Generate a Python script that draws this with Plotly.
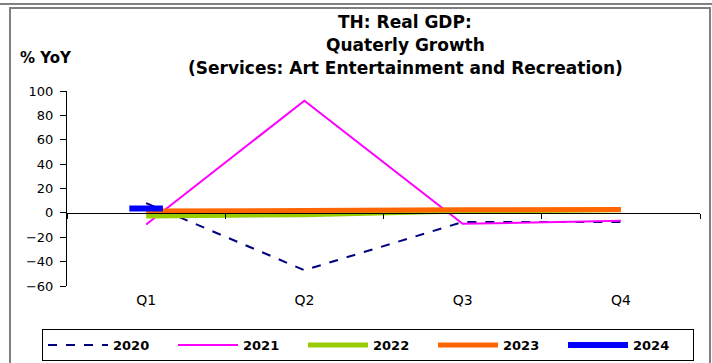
import plotly.graph_objects as go

QUARTERS = ["Q1", "Q2", "Q3", "Q4"]
Y2020 = [8, -47, -7.5, -7.5]
Y2021 = [-9.5, 92, -9, -6.5]
Y2022 = [-2.5, -1.5, 1.5, 2.5]
Y2023 = [1.5, 1.5, 2.5, 2.8]
Y2024 = [3.5]

TITLE_LINES = [
    "TH: Real GDP:",
    "Quaterly Growth",
    "(Services: Art Entertainment and Recreation)",
]

FONT = "DejaVu Sans, Arial, sans-serif"

# plot area in pixels (left, right, top, bottom)
L, R, T, B = 67, 700, 91, 286


def px_x(x):
    return (x - L) / (R - L)


def px_y(y):
    return (B - y) / (B - T)


fig = go.Figure()

series = [
    ("2020", Y2020, dict(color="#000080", width=2, dash="dash")),
    ("2021", Y2021, dict(color="#FF00FF", width=2)),
    ("2022", Y2022, dict(color="#99CC00", width=5)),
    ("2023", Y2023, dict(color="#FF6600", width=5)),
    ("2024", Y2024, dict(color="#0000FF", width=6)),
]
for name, ys, line in series:
    fig.add_trace(go.Scatter(
        x=QUARTERS[:len(ys)], y=ys, name=name, mode="lines", line=line,
    ))

# 2024 has one point only: draw it as a short dash
fig.add_trace(go.Scatter(
    x=QUARTERS[:len(Y2024)], y=Y2024, mode="markers", showlegend=False,
    marker=dict(symbol="line-ew", size=24, line=dict(color="#0000FF", width=6)),
))

# helper trace to carry the zero-line axis
fig.add_trace(go.Scatter(
    x=QUARTERS, y=[0] * 4, xaxis="x2", mode="markers",
    marker=dict(opacity=0), showlegend=False, hoverinfo="skip",
))

fig.update_layout(
    width=712, height=363,
    margin=dict(l=L, r=712 - R, t=T, b=363 - B, autoexpand=False),
    paper_bgcolor="white", plot_bgcolor="white",
    font=dict(family=FONT, size=13, color="black"),
    xaxis=dict(
        type="category", categoryorder="array", categoryarray=QUARTERS,
        range=[-0.5, 3.5], showline=False, showgrid=False, zeroline=False,
        ticks="", tickfont=dict(size=14), ticklabelstandoff=4,
    ),
    xaxis2=dict(
        type="category", categoryorder="array", categoryarray=QUARTERS,
        range=[-0.5, 3.5], overlaying="x", anchor="free", position=0.375,
        showline=True, linecolor="black", linewidth=1,
        ticks="outside", tickson="boundaries", ticklen=5, tickcolor="black",
        showticklabels=False, showgrid=False, side="bottom",
    ),
    yaxis=dict(
        range=[-60, 100], dtick=20, showgrid=False, zeroline=False,
        showline=True, linecolor="black", linewidth=1,
        ticks="outside", ticklen=6, tickcolor="black", tickfont=dict(size=13),
        ticklabelstandoff=4,
    ),
    legend=dict(
        orientation="h", x=px_x(42), xanchor="left", y=px_y(329), yanchor="top",
        bordercolor="black", borderwidth=1, bgcolor="white",
        font=dict(family=FONT, size=13, color="black", weight="bold"),
        entrywidth=55, itemwidth=60, tracegroupgap=0,
    ),
    showlegend=True,
)

for i, line in enumerate(TITLE_LINES):
    fig.add_annotation(
        text=f"<b>{line}</b>", xref="paper", yref="paper",
        x=px_x(405), y=px_y(22 + 23 * i), xanchor="center", yanchor="middle",
        showarrow=False, font=dict(family=FONT, size=17, color="black"),
    )

fig.add_annotation(
    text="<b>% YoY</b>", xref="paper", yref="paper",
    x=px_x(46), y=px_y(58), xanchor="center", yanchor="middle",
    showarrow=False, font=dict(family=FONT, size=15, color="black"),
)

# outer chart frame
fig.add_shape(
    type="rect", xref="paper", yref="paper",
    x0=px_x(10), x1=px_x(710), y0=px_y(366), y1=px_y(8),
    line=dict(color="#808080", width=2), layer="below",
)
fig.add_shape(
    type="line", xref="paper", yref="paper",
    x0=px_x(0), x1=px_x(712), y0=px_y(4), y1=px_y(4),
    line=dict(color="#808080", width=2), layer="below",
)

fig.write_html(
    "out.html",
    config={"displayModeBar": False},
    post_script="document.body.style.margin = '0';",
)
